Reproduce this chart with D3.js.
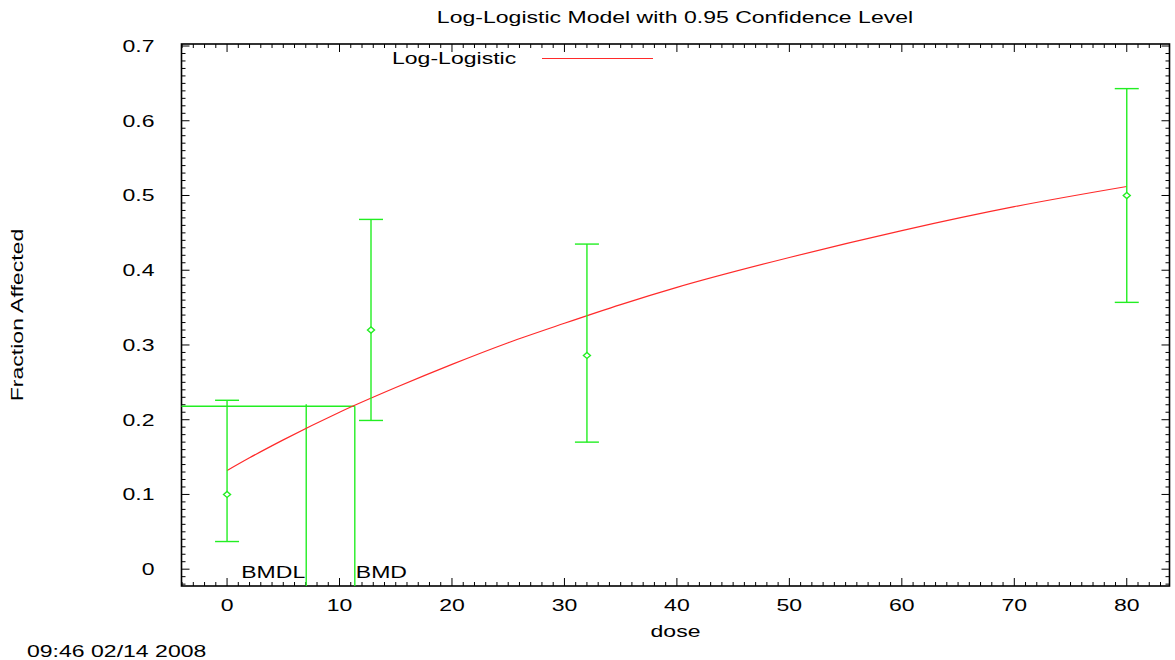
<!DOCTYPE html>
<html>
<head>
<meta charset="utf-8">
<script src="https://cdn.jsdelivr.net/npm/d3@7"></script>
<style>
  html, body { margin: 0; padding: 0; background: #fff; }
  svg { display: block; }
  text { font-family: "Liberation Sans", Arial, Helvetica, sans-serif; fill: #000; }
</style>
</head>
<body>
<svg id="chart" width="1175" height="660"></svg>
<script>
// ---- data ----
const doses        = [0, 12.8, 32, 80];
const fracAffected = [0.100, 0.320, 0.286, 0.500];
const ciLower      = [0.037, 0.199, 0.170, 0.357];
const ciUpper      = [0.226, 0.468, 0.435, 0.643];

const modelDoses   = [0, 2, 5, 10, 15, 20, 25, 30, 35, 40, 50, 60, 70, 80];
const modelValues  = [0.132, 0.149, 0.173, 0.210, 0.243, 0.274, 0.303, 0.329, 0.354, 0.377, 0.417, 0.453, 0.485, 0.512];

const bmd = 11.36;
const bmdl = 7.04;
const bmdResponse = 0.218;

const xTickValues = [0, 10, 20, 30, 40, 50, 60, 70, 80];
const yTickValues = [0, 0.1, 0.2, 0.3, 0.4, 0.5, 0.6, 0.7];
const yTickLabels = ["0", "0.1", "0.2", "0.3", "0.4", "0.5", "0.6", "0.7"];

const titleText = "Log-Logistic Model with 0.95 Confidence Level";
const legendLabel = "Log-Logistic";
const xLabel = "dose";
const yLabel = "Fraction Affected";
const stamp = "09:46 02/14 2008";

// ---- layout ----
const svg = d3.select("#chart");
const L = 181.5, R = 1169.5, T = 44, B = 586;
const SX = 1.44; // wide glyph stretch seen in the reference
const FS = 16;
const GREEN = "#22ee22", RED = "#ff2a2a";

const x = d3.scaleLinear().domain([-4.05, 83.8]).range([L, R]);
const y = d3.scaleLinear().domain([-0.0225, 0.7027]).range([B, T]);

function txt(px, py, s, anchor, rot) {
  const t = svg.append("text")
    .attr("transform", `translate(${px},${py})` + (rot ? ` rotate(${rot})` : "") + ` scale(${SX},1)`)
    .attr("font-size", FS)
    .attr("text-anchor", anchor || "start")
    .text(s);
  return t;
}

// ---- ticks (inward, on all four sides) ----
const xMinor = d3.range(-4, 84, 1);
const yMinor = d3.range(-2, 71, 1).map(v => v / 100);
const tickG = svg.append("g").attr("stroke", "#000").attr("stroke-width", 1);

function isMajorX(v) { return Math.abs(v % 10) < 1e-9; }
function isMajorY(v) { return Math.abs(Math.round(v * 100) % 10) === 0; }

xMinor.forEach(v => {
  const len = isMajorX(v) ? 8 : 4;
  tickG.append("line").attr("x1", x(v)).attr("x2", x(v)).attr("y1", B).attr("y2", B - len);
  tickG.append("line").attr("x1", x(v)).attr("x2", x(v)).attr("y1", T).attr("y2", T + len);
});
yMinor.forEach(v => {
  const len = isMajorY(v) ? 8 : 4;
  tickG.append("line").attr("y1", y(v)).attr("y2", y(v)).attr("x1", L).attr("x2", L + len);
  tickG.append("line").attr("y1", y(v)).attr("y2", y(v)).attr("x1", R).attr("x2", R - len);
});

// frame
svg.append("rect").attr("x", L).attr("y", T).attr("width", R - L).attr("height", B - T)
  .attr("fill", "none").attr("stroke", "#000").attr("stroke-width", 1.6);

// tick labels
xTickValues.forEach(v => txt(x(v), B + 24.5, String(v), "middle"));
yTickValues.forEach((v, i) => txt(L - 27, y(v) + 5.8, yTickLabels[i], "end"));

// ---- BMD / BMDL lines ----
const bmdG = svg.append("g").attr("stroke", GREEN).attr("stroke-width", 1.4).attr("fill", "none");
bmdG.append("line").attr("x1", L).attr("x2", x(bmd)).attr("y1", y(bmdResponse)).attr("y2", y(bmdResponse));
bmdG.append("line").attr("x1", x(bmd)).attr("x2", x(bmd)).attr("y1", y(bmdResponse)).attr("y2", B);
bmdG.append("line").attr("x1", x(bmdl)).attr("x2", x(bmdl)).attr("y1", y(bmdResponse) - 2).attr("y2", B);
txt(x(bmdl) - 1, y(0) + 8.5, "BMDL", "end");
txt(x(bmd) + 1, y(0) + 8.5, "BMD", "start");

// ---- model curve ----
const line = d3.line().x(d => x(d[0])).y(d => y(d[1])).curve(d3.curveMonotoneX);
svg.append("path").datum(modelDoses.map((d, i) => [d, modelValues[i]]))
  .attr("d", line).attr("fill", "none").attr("stroke", RED).attr("stroke-width", 1.2);

// ---- error bars & points ----
const ebG = svg.append("g").attr("stroke", GREEN).attr("stroke-width", 1.4).attr("fill", "none");
doses.forEach((d, i) => {
  const cx = x(d);
  ebG.append("line").attr("x1", cx).attr("x2", cx).attr("y1", y(ciUpper[i])).attr("y2", y(ciLower[i]));
  ebG.append("line").attr("x1", cx - 12).attr("x2", cx + 12).attr("y1", y(ciUpper[i])).attr("y2", y(ciUpper[i]));
  ebG.append("line").attr("x1", cx - 12).attr("x2", cx + 12).attr("y1", y(ciLower[i])).attr("y2", y(ciLower[i]));
  const cy = y(fracAffected[i]);
  ebG.append("path").attr("d", `M${cx - 3.5},${cy} L${cx},${cy - 3} L${cx + 3.5},${cy} L${cx},${cy + 3} Z`)
    .attr("fill", "#fff");
});

// ---- legend ----
txt(392, 63.5, legendLabel, "start");
svg.append("line").attr("x1", 542).attr("x2", 653).attr("y1", 58.5).attr("y2", 58.5)
  .attr("stroke", RED).attr("stroke-width", 1.2);

// ---- titles ----
txt(675, 22.5, titleText, "middle");
txt(675.5, 637, xLabel, "middle");
txt(22.5, 315, yLabel, "middle", -90);
txt(27, 657, stamp, "start");
</script>
</body>
</html>
